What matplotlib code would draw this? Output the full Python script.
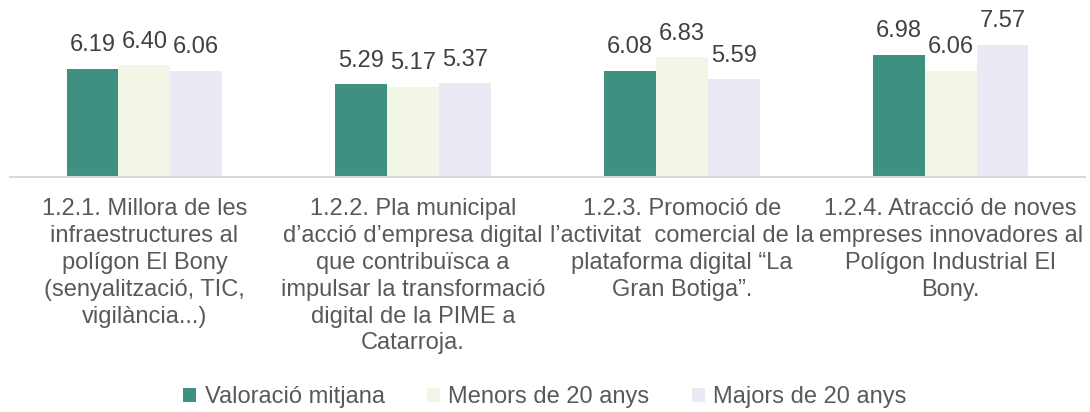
import matplotlib
matplotlib.use("Agg")
import matplotlib.pyplot as plt
import numpy as np

plt.rcParams['font.family'] = ['Liberation Sans', 'DejaVu Sans']

categories = [
    "1.2.1. Millora de les\ninfraestructures al\npolígon El Bony\n(senyalització, TIC,\nvigilància...)",
    "1.2.2. Pla municipal\nd’acció d’empresa digital\nque contribuïsca a\nimpulsar la transformació\ndigital de la PIME a\nCatarroja.",
    "1.2.3. Promoció de\nl’activitat  comercial de la\nplataforma digital “La\nGran Botiga”.",
    "1.2.4. Atracció de noves\nempreses innovadores al\nPolígon Industrial El\nBony.",
]
series_names = ["Valoració mitjana", "Menors de 20 anys", "Majors de 20 anys"]
valoracio = [6.19, 5.29, 6.08, 6.98]
menors = [6.40, 5.17, 6.83, 6.06]
majors = [6.06, 5.37, 5.59, 7.57]

colors = ["#3E9080", "#F1F6E6", "#ECE9F4"]
text_color = "#595959"

W, H = 1090, 412
fig = plt.figure(figsize=(W / 100, H / 100), dpi=100)
ax = fig.add_axes([10 / W, (H - 177) / H, 1075 / W, 175 / H])

x = np.arange(len(categories))
bw = 0.193
series = [valoracio, menors, majors]
for i, (vals, name, c) in enumerate(zip(series, series_names, colors)):
    pos = x + (i - 1) * bw
    bars = ax.bar(pos, vals, width=bw, color=c, label=name, edgecolor='none')
    for b, v in zip(bars, vals):
        ax.annotate(f"{v:.2f}", (b.get_x() + b.get_width() / 2, v),
                    xytext=(0, 9), textcoords='offset points',
                    ha='center', va='bottom', fontsize=17, color="#404040")

ax.set_xlim(-0.5, len(categories) - 0.5)
ax.set_ylim(0, 10)
ax.set_yticks([])
ax.set_xticks(x)
ax.set_xticklabels(categories, fontsize=17, color=text_color, linespacing=1.29)
ax.tick_params(axis='x', length=0, pad=15)
for s in ['top', 'right', 'left']:
    ax.spines[s].set_visible(False)
ax.spines['bottom'].set_color('#D9D9D9')
ax.spines['bottom'].set_linewidth(1.5)

leg = fig.legend(loc='center', bbox_to_anchor=(0.5, 1 - 397 / H), ncol=3,
                 frameon=False, fontsize=17, handlelength=0.55, handleheight=0.55,
                 handletextpad=0.35, columnspacing=1.8)
for t in leg.get_texts():
    t.set_color(text_color)

fig.savefig("out.png", dpi=100)
